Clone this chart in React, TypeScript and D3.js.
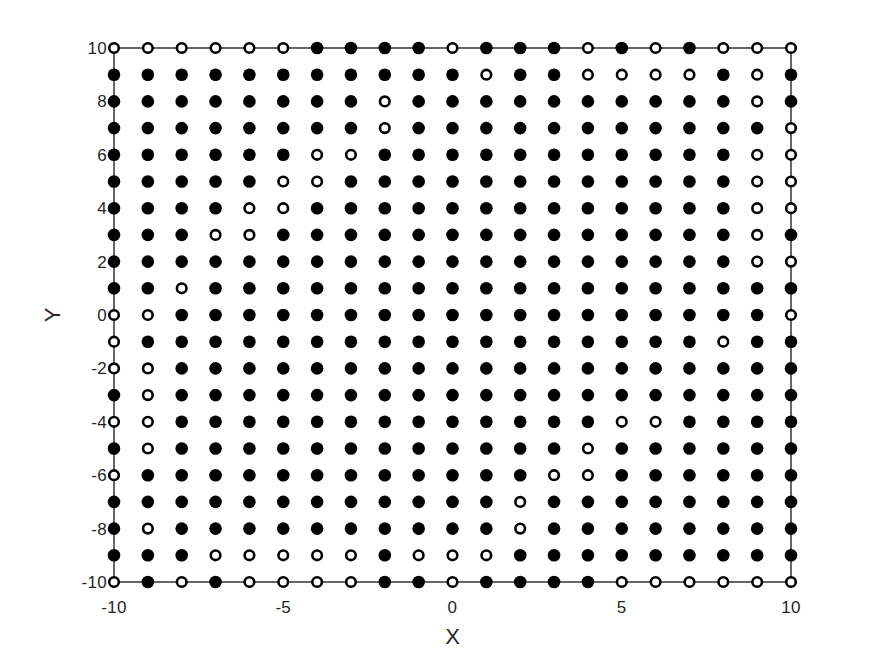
import React, { useEffect, useRef } from "react";
import * as d3 from "d3";

// grid of integer points from -10 to 10 on both axes
const xValues = d3.range(-10, 11);
const yValues = d3.range(-10, 11);
const xTicks = [-10, -5, 0, 5, 10];
const yTicks = [-10, -8, -6, -4, -2, 0, 2, 4, 6, 8, 10];

// points drawn as open circles, as [x, y]; every other grid point is filled
const openPoints: [number, number][] = [
  [-10, 10], [-9, 10], [-8, 10], [-7, 10], [-6, 10], [-5, 10], [0, 10], [4, 10], [6, 10], [8, 10], [9, 10], [10, 10],
  [1, 9], [4, 9], [5, 9], [6, 9], [7, 9], [9, 9],
  [-2, 8], [9, 8],
  [-2, 7], [10, 7],
  [-4, 6], [-3, 6], [9, 6], [10, 6],
  [-5, 5], [-4, 5], [9, 5], [10, 5],
  [-6, 4], [-5, 4], [9, 4], [10, 4],
  [-7, 3], [-6, 3], [9, 3],
  [9, 2], [10, 2],
  [-8, 1],
  [-10, 0], [-9, 0], [10, 0],
  [-10, -1], [8, -1],
  [-10, -2], [-9, -2],
  [-9, -3],
  [-10, -4], [-9, -4], [5, -4], [6, -4],
  [-9, -5], [4, -5],
  [-10, -6], [3, -6], [4, -6],
  [2, -7],
  [-9, -8], [2, -8],
  [-7, -9], [-6, -9], [-5, -9], [-4, -9], [-3, -9], [-1, -9], [0, -9], [1, -9],
  [-10, -10], [-8, -10], [-6, -10], [-5, -10], [-4, -10], [-3, -10], [0, -10], [5, -10], [6, -10], [7, -10], [8, -10], [9, -10], [10, -10],
];

const App = () => {
  const ref = useRef<SVGSVGElement>(null);
  const width = 875, height = 656;
  const m = { left: 114, right: 84, top: 48, bottom: 74 };

  useEffect(() => {
    const svg = d3.select(ref.current);
    svg.selectAll("*").remove();

    const x = d3.scaleLinear().domain([-10, 10]).range([m.left, width - m.right]);
    const y = d3.scaleLinear().domain([-10, 10]).range([height - m.bottom, m.top]);
    const txt = "#262626";

    const openSet = new Set(openPoints.map(p => p.join(",")));
    const pts = yValues.flatMap(yv => xValues.map(xv => ({ x: xv, y: yv, open: openSet.has(xv + "," + yv) })));

    // box
    svg.append("rect")
      .attr("x", x(-10)).attr("y", y(10))
      .attr("width", x(10) - x(-10)).attr("height", y(-10) - y(10))
      .attr("fill", "none").attr("stroke", "#000").attr("stroke-width", 1.2);

    const g = svg.append("g").style("font-family", "'Liberation Sans', Arial, sans-serif");

    // ticks (inward)
    g.selectAll("line.xt").data(xTicks).join("line").attr("class", "xt")
      .attr("x1", d => x(d)).attr("x2", d => x(d))
      .attr("y1", y(-10)).attr("y2", y(-10) - 6).attr("stroke", "#000");
    g.selectAll("line.xt2").data(xTicks).join("line").attr("class", "xt2")
      .attr("x1", d => x(d)).attr("x2", d => x(d))
      .attr("y1", y(10)).attr("y2", y(10) + 6).attr("stroke", "#000");
    g.selectAll("line.yt").data(yTicks).join("line").attr("class", "yt")
      .attr("x1", x(-10)).attr("x2", x(-10) + 6)
      .attr("y1", d => y(d)).attr("y2", d => y(d)).attr("stroke", "#000");
    g.selectAll("line.yt2").data(yTicks).join("line").attr("class", "yt2")
      .attr("x1", x(10)).attr("x2", x(10) - 6)
      .attr("y1", d => y(d)).attr("y2", d => y(d)).attr("stroke", "#000");

    g.selectAll("text.xl").data(xTicks).join("text").attr("class", "xl")
      .attr("x", d => x(d)).attr("y", y(-10) + 31)
      .attr("text-anchor", "middle").attr("font-size", 17).attr("fill", txt)
      .attr("letter-spacing", 0.3)
      .text(d => d);
    g.selectAll("text.yl").data(yTicks).join("text").attr("class", "yl")
      .attr("x", x(-10) - 7).attr("y", d => y(d) + 6)
      .attr("text-anchor", "end").attr("font-size", 17).attr("fill", txt)
      .attr("letter-spacing", 0.3)
      .text(d => d);

    g.append("text").attr("x", x(0)).attr("y", 644)
      .attr("text-anchor", "middle").attr("font-size", 22).attr("fill", txt).text("X");
    g.append("text").attr("transform", `translate(60,${y(0)}) rotate(-90)`)
      .attr("text-anchor", "middle").attr("font-size", 22).attr("fill", txt).text("Y");

    // markers
    svg.append("g").selectAll("circle").data(pts).join("circle")
      .attr("cx", d => x(d.x)).attr("cy", d => y(d.y))
      .attr("r", d => d.open ? 4.8 : 6.3)
      .attr("fill", d => d.open ? "#fff" : "#000")
      .attr("stroke", d => d.open ? "#000" : "none")
      .attr("stroke-width", 2.6);
  }, []);

  return <svg ref={ref} width={width} height={height}
    style={{ position: "absolute", left: 0, top: 0, background: "#fff" }} />;
};

export default App;
